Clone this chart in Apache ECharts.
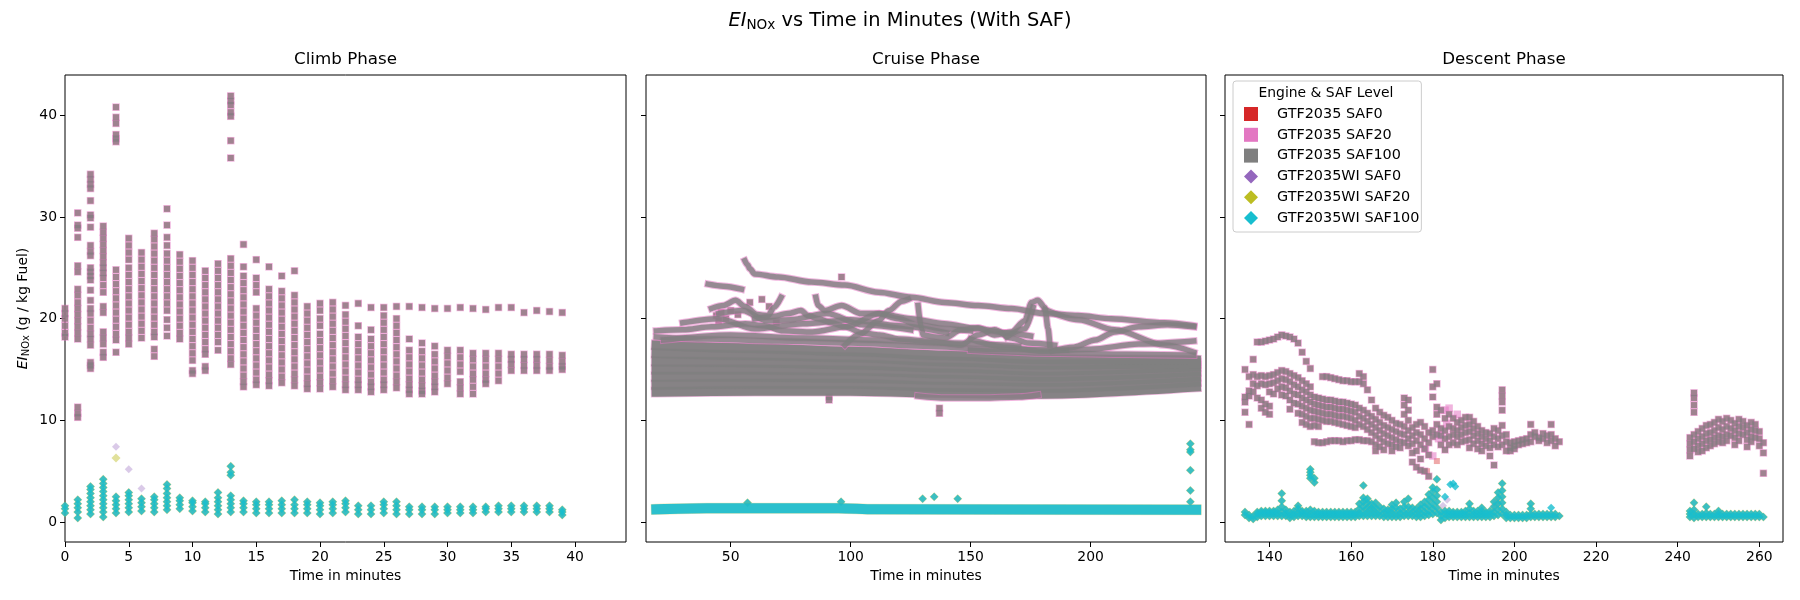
<!DOCTYPE html>
<html>
<head>
<meta charset="utf-8">
<title>EI NOx vs Time in Minutes (With SAF)</title>
<script src="https://cdn.jsdelivr.net/npm/echarts@6/dist/echarts.min.js"></script>
<style>
    html, body { margin: 0; padding: 0; background: #fff; }
    #chart { width: 1800px; height: 600px; }
</style>
</head>
<body>
<div id="chart"></div>
<script>
// ---- labels / ticks ----
var phaseTitles = ['Climb Phase', 'Cruise Phase', 'Descent Phase'];
var seriesNames = ['GTF2035 SAF0', 'GTF2035 SAF20', 'GTF2035 SAF100',
                   'GTF2035WI SAF0', 'GTF2035WI SAF20', 'GTF2035WI SAF100'];
var yTicks = [0, 10, 20, 30, 40];
var climbTicks = [0, 5, 10, 15, 20, 25, 30, 35, 40];
var cruiseTicks = [50, 100, 150, 200];
var descentTicks = [140, 160, 180, 200, 220, 240, 260];

// ---- climb: one column of values per minute ----
var climbMinutes = [0, 1, 2, 3, 4, 5, 6, 7, 8, 9, 10, 11, 12, 13, 14, 15, 16, 17, 18, 19,
                    20, 21, 22, 23, 24, 25, 26, 27, 28, 29, 30, 31, 32, 33, 34, 35, 36, 37, 38, 39];
var climbGtf = [
    [21.0, 20.5, 20.0, 19.3, 18.6, 18.2],
    [30.4, 29.2, 28.9, 28.0, 25.2, 24.6, 22.9, 22.3, 21.6, 21.0, 20.4, 19.8, 19.2, 18.6, 18.0, 11.3, 10.7, 10.3],
    [34.2, 33.7, 33.2, 32.8, 31.6, 30.2, 29.9, 29.0, 27.2, 26.6, 26.2, 25.0, 24.6, 24.2, 23.8, 22.8, 21.8, 21.0, 20.5, 19.8, 19.1, 18.5, 18.0, 17.4, 15.7, 15.4, 15.1],
    [29.1, 28.5, 27.9, 27.3, 26.7, 26.1, 25.5, 25.0, 24.5, 24.0, 23.3, 22.6, 21.2, 20.6, 18.7, 18.1, 17.5, 16.7, 16.2],
    [40.8, 39.8, 39.2, 38.1, 37.7, 37.4, 24.8, 24.1, 23.4, 22.7, 22.0, 21.3, 20.6, 19.9, 19.2, 18.5, 17.9, 16.7],
    [27.9, 27.2, 26.5, 25.8, 25.0, 24.3, 23.6, 22.9, 22.2, 21.5, 20.8, 20.1, 19.4, 18.7, 18.1, 17.5],
    [26.5, 25.8, 25.1, 24.4, 23.7, 23.0, 22.3, 21.6, 20.9, 20.2, 19.5, 18.8, 18.1],
    [28.4, 27.8, 27.1, 26.4, 25.7, 25.0, 24.3, 23.6, 22.9, 22.2, 21.5, 20.8, 20.1, 19.4, 18.7, 18.2, 17.0, 16.3],
    [30.8, 29.2, 28.0, 27.2, 26.4, 25.7, 25.0, 24.3, 23.6, 22.9, 22.2, 21.5, 20.8, 19.9, 19.1, 18.3],
    [26.3, 25.6, 24.9, 24.2, 23.5, 22.8, 22.1, 21.4, 20.7, 20.0, 19.3, 18.6, 18.0],
    [25.7, 25.0, 24.3, 23.6, 22.9, 22.2, 21.5, 20.8, 20.1, 19.4, 18.7, 18.0, 17.3, 16.6, 15.9, 14.9, 14.6],
    [24.7, 24.0, 23.3, 22.6, 21.9, 21.2, 20.5, 19.8, 19.1, 18.4, 17.7, 17.0, 16.5, 15.3, 14.9],
    [25.4, 24.7, 24.0, 23.3, 22.6, 21.9, 21.2, 20.5, 19.8, 19.1, 18.4, 17.7, 16.9],
    [41.9, 41.4, 41.0, 40.3, 39.9, 37.5, 35.8, 25.9, 25.2, 24.5, 23.8, 23.1, 22.4, 21.7, 21.0, 20.3, 19.6, 18.9, 18.2, 17.5, 16.8, 16.1, 15.5],
    [27.3, 25.1, 24.2, 23.5, 22.8, 22.1, 21.4, 20.7, 20.0, 19.3, 18.6, 17.9, 17.2, 16.5, 15.8, 15.1, 14.4, 13.8, 13.3],
    [25.8, 24.0, 23.3, 22.6, 21.0, 20.3, 19.6, 18.9, 18.2, 17.5, 16.8, 16.1, 15.4, 14.7, 14.0, 13.5],
    [25.1, 22.9, 22.2, 21.5, 20.8, 20.1, 19.4, 18.7, 18.0, 17.3, 16.6, 15.9, 15.2, 14.5, 13.9, 13.4],
    [24.2, 22.7, 22.0, 21.3, 20.6, 19.9, 19.2, 18.5, 17.8, 17.1, 16.4, 15.7, 15.0, 14.3, 13.7],
    [24.7, 22.3, 21.6, 20.9, 20.2, 19.5, 18.8, 18.1, 17.4, 16.7, 16.0, 15.3, 14.6, 14.0, 13.4],
    [21.2, 20.5, 19.8, 19.1, 18.4, 17.7, 17.0, 16.3, 15.6, 14.9, 14.2, 13.6, 13.1],
    [21.5, 20.8, 20.0, 19.3, 18.5, 17.8, 17.1, 16.4, 15.7, 15.0, 14.3, 13.7, 13.1],
    [21.6, 20.9, 20.2, 19.5, 18.8, 18.1, 17.4, 16.7, 16.0, 15.3, 14.6, 13.9, 13.3],
    [21.3, 20.4, 19.7, 19.0, 18.3, 17.6, 16.9, 16.2, 15.5, 14.8, 14.1, 13.5, 13.0],
    [21.5, 19.3, 18.2, 17.5, 16.8, 16.1, 15.4, 14.7, 14.0, 13.5, 13.0],
    [21.1, 18.9, 18.0, 17.3, 16.6, 15.9, 15.2, 14.5, 13.8, 13.3, 12.8],
    [21.1, 20.3, 19.6, 18.9, 18.2, 17.5, 16.8, 16.1, 15.4, 14.7, 14.0, 13.5, 13.0],
    [21.2, 20.0, 19.3, 18.6, 17.9, 17.2, 16.5, 15.8, 15.1, 14.4, 13.8, 13.2],
    [21.2, 18.0, 16.9, 16.2, 15.5, 14.8, 14.1, 13.5, 13.0, 12.6],
    [21.1, 17.6, 16.8, 16.1, 15.4, 14.7, 14.0, 13.4, 12.9, 12.6],
    [21.0, 17.3, 16.5, 15.8, 15.1, 14.4, 13.8, 13.3, 12.8],
    [21.0, 16.9, 16.3, 15.6, 14.9, 14.2, 13.6],
    [21.1, 16.9, 16.2, 15.5, 14.8, 13.8, 13.2, 12.6],
    [21.0, 16.6, 16.0, 15.3, 14.6, 14.0, 13.3, 12.6],
    [20.9, 16.6, 16.0, 15.3, 14.6, 14.0, 13.6],
    [21.1, 16.6, 16.0, 15.3, 14.6, 13.9],
    [21.1, 16.5, 16.0, 15.5, 14.9],
    [20.6, 16.5, 16.0, 15.4, 14.9],
    [20.8, 16.5, 16.0, 15.4, 14.9],
    [20.7, 16.5, 15.9, 15.3, 14.9],
    [20.6, 16.4, 15.8, 15.3, 15.0]
];
var climbWi = [
    [0.9, 1.3, 1.6],
    [0.4, 1.0, 1.4, 1.8, 2.2],
    [0.8, 1.2, 1.6, 2.0, 2.4, 2.8, 3.2, 3.5],
    [0.5, 1.0, 1.4, 1.8, 2.2, 2.6, 3.0, 3.4, 3.8, 4.2],
    [0.9, 1.3, 1.7, 2.1, 2.5],
    [1.0, 1.4, 1.8, 2.2, 2.6, 2.9],
    [1.1, 1.5, 1.9, 2.3],
    [1.0, 1.4, 1.8, 2.2, 2.5],
    [1.2, 1.6, 2.0, 2.4, 2.8, 3.3, 3.7],
    [1.3, 1.7, 2.1, 2.4],
    [1.1, 1.5, 1.9, 2.1],
    [1.0, 1.4, 1.8, 2.0],
    [0.8, 1.2, 1.6, 2.0, 2.4, 2.9],
    [1.0, 1.4, 1.8, 2.2, 2.6, 4.6, 4.9, 5.5],
    [1.0, 1.4, 1.8, 2.1],
    [0.9, 1.3, 1.7, 2.0],
    [0.9, 1.3, 1.7, 2.0],
    [0.9, 1.3, 1.7, 2.1],
    [0.9, 1.3, 1.7, 2.2],
    [0.9, 1.3, 1.7, 2.0],
    [0.8, 1.2, 1.6, 1.9],
    [0.9, 1.3, 1.7, 2.0],
    [1.0, 1.4, 1.8, 2.1],
    [0.8, 1.2, 1.6],
    [0.8, 1.2, 1.6],
    [0.9, 1.3, 1.7, 2.0],
    [0.8, 1.2, 1.6, 2.0],
    [0.8, 1.2, 1.5],
    [0.8, 1.2, 1.5],
    [0.8, 1.2, 1.5],
    [0.9, 1.2, 1.5],
    [0.9, 1.2, 1.5],
    [0.9, 1.2, 1.5],
    [1.0, 1.3, 1.5],
    [1.0, 1.3, 1.6],
    [1.0, 1.3, 1.6],
    [1.0, 1.3, 1.6],
    [1.0, 1.3, 1.6],
    [1.0, 1.3, 1.6],
    [0.7, 1.0, 1.2]
];
var climbWiSaf0Only = [[4, 7.4], [5, 5.2], [6, 3.3]];
var climbWiSaf20Only = [[4, 6.3]];

// ---- cruise: flight tracks (time, value) ----
var cruiseBand = [
    [[19, 12.8], [60, 12.9], [100, 12.9], [140, 12.7], [180, 12.6], [244, 13.3]],
    [[19, 13.5], [60, 13.6], [100, 13.6], [140, 13.3], [180, 13.2], [244, 13.8]],
    [[19, 14.3], [60, 14.3], [100, 14.2], [140, 14.0], [180, 13.8], [244, 14.3]],
    [[19, 15.0], [60, 15.0], [100, 14.9], [140, 14.6], [180, 14.3], [244, 14.8]],
    [[19, 15.8], [60, 15.7], [100, 15.5], [140, 15.2], [180, 14.9], [244, 15.3]],
    [[19, 16.6], [60, 16.4], [100, 16.2], [140, 15.8], [180, 15.5], [244, 15.6]],
    [[19, 17.4], [60, 17.1], [100, 16.8], [140, 16.4], [180, 16.0], [244, 15.9]]
];
var cruiseTracks = [
    [[128, 12.4], [140, 12.2], [155, 12.2], [170, 12.3], [178, 12.5]],
    [[19, 18.2], [40, 18.0], [70, 17.8], [100, 17.6], [130, 17.3], [160, 17.0], [190, 16.9]],
    [[22, 17.9], [50, 18.4], [80, 18.1], [110, 17.9], [140, 17.6], [170, 17.3]],
    [[150, 18.0], [165, 17.2], [180, 16.8], [200, 17.0], [220, 17.5], [243, 17.8]],
    [[55.9, 25.7], [57, 25.3], [58, 24.9], [60, 24.4], [69.8, 24.1], [83.7, 23.6], [97.6, 23.3], [111.5, 22.6],
     [125.4, 22.1], [139.2, 21.6], [153.1, 21.3], [167, 21.0], [180.9, 20.5], [194.8, 20.3], [208.6, 20.0],
     [230.8, 19.6], [243, 19.3]],
    [[40.6, 23.4], [47, 23.2], [54.5, 22.9]],
    [[19, 18.8], [30, 18.9], [42, 19.2], [56, 19.5], [64, 19.3], [72, 18.8], [84, 18.7], [98, 19.2],
     [112, 20.5], [125, 20.0], [139, 19.5], [153, 19.0], [165, 18.6], [175, 18.3]],
    [[30, 19.6], [45, 20.0], [60, 19.0], [80, 19.5], [100, 19.9], [120, 19.3], [140, 18.6]],
    [[45, 20.5], [55, 20.8], [65, 19.8], [75, 19.9], [90, 20.5], [105, 19.4], [125, 18.9]],
    [[42, 21.0], [47, 21.3], [52, 21.8], [56, 21.2], [61, 20.4], [65.6, 20.3], [68, 21.1], [71, 22.1]],
    [[60, 20.0], [67, 20.2], [73.8, 20.5], [79.3, 20.8], [82.3, 20.3], [86.4, 20.0], [92, 19.6], [97.6, 19.2],
     [105, 18.6], [112, 18.4], [120, 18.0], [132, 17.8], [146, 17.4], [153, 18.4], [160, 18.9], [167, 18.1],
     [174, 17.6], [185, 17.4]],
    [[85.5, 22.1], [86.4, 21.3], [89.2, 20.8], [96.2, 21.3], [104.5, 20.5], [111.5, 20.5], [119.8, 20.0],
     [128, 19.4], [139, 19.0], [150, 18.8]],
    [[97.6, 17.4], [104, 18.5], [111.5, 19.8], [116, 20.8], [121.2, 21.7], [124, 21.9]],
    [[128.1, 21.3], [129.5, 19.0], [130.2, 18.4], [135, 18.2], [139.2, 18.1], [146, 18.9], [153.1, 19.1],
     [160, 18.4], [167, 18.7], [172.6, 19.8], [175.4, 21.6], [178, 21.8], [180.9, 21.1], [182.3, 19.0], [183, 17.4]],
    [[165, 18.2], [172.6, 19.0], [176, 21.1]],
    [[180.9, 20.9], [195, 19.9], [210, 18.9], [230.8, 17.4], [243, 16.7]],
    [[184, 16.8], [193, 17.2], [202, 17.9], [210, 18.7], [220, 19.2], [232, 19.4], [243, 19.2]],
    [[150, 16.9], [187, 16.6], [215, 16.5], [243, 16.4]]
];
var cruiseGtfDots = [[96.2, 24.1], [44, 20.3], [46, 20.6], [48, 20.0], [50, 20.8], [53, 20.4], [58, 21.6],
                     [63, 21.9], [45, 19.8], [66, 21.2], [69, 19.6], [91, 12.0], [91, 12.3], [137, 10.7], [137, 11.2]];
var cruiseWiBand = [[19, 1.25], [40, 1.35], [95, 1.35], [110, 1.25], [244, 1.2]];
var cruiseWiDots = [[57, 1.9], [96, 2.0], [130, 2.3], [134.8, 2.5], [144.6, 2.3],
                    [241.6, 7.7], [241.6, 7.1], [241.6, 6.9], [241.6, 5.1], [241.6, 3.1], [241.6, 2.0]];

// ---- descent: columns per minute ----
var descentGtf = [
    [134, [15.0, 12.3, 11.8, 10.8]], [135, [14.3, 12.9, 12.4, 9.6]], [136, [16.0, 14.5, 13.6, 12.8]],
    [137, [17.7, 14.3, 13.4, 12.2]], [138, [17.7, 14.4, 13.6, 12.0, 11.2]], [139, [17.8, 14.3, 13.5, 11.6, 10.8]],
    [140, [17.9, 14.4, 13.6, 12.8, 11.4, 10.6]], [141, [18.0, 14.5, 13.7, 12.6]], [142, [18.2, 14.7, 13.9, 13.1]],
    [143, [18.4, 14.9, 14.1, 13.3, 12.5]], [144, [18.3, 14.8, 14.0, 13.2, 12.4]],
    [145, [18.2, 14.6, 13.8, 12.9, 12.0, 11.1]], [146, [18.0, 14.4, 13.5, 12.6, 11.7]],
    [147, [17.6, 14.2, 13.3, 12.5, 11.6, 10.7]], [148, [16.7, 13.9, 13.0, 12.2, 11.4, 10.6, 9.8]],
    [149, [15.8, 13.6, 12.8, 12.0, 11.2, 10.4, 9.6]], [150, [15.1, 13.3, 12.5, 11.8, 11.0, 10.2, 9.4]],
    [151, [12.3, 11.6, 10.9, 10.2, 9.5, 7.9]], [152, [12.2, 11.5, 10.8, 10.1, 9.4, 7.8]],
    [153, [14.3, 12.1, 11.4, 10.7, 10.0, 7.8]], [154, [14.3, 12.0, 11.3, 10.6, 9.9, 7.9]],
    [155, [14.2, 12.0, 11.3, 10.6, 9.9, 8.0]], [156, [14.1, 11.9, 11.2, 10.5, 9.8, 8.0]],
    [157, [14.0, 11.8, 11.1, 10.4, 9.7, 8.0]], [158, [13.9, 11.8, 11.1, 10.4, 9.6, 7.9]],
    [159, [13.9, 11.7, 11.0, 10.3, 9.5, 8.0]], [160, [13.8, 11.6, 10.9, 10.2, 9.4, 8.0]],
    [161, [13.8, 11.5, 10.8, 10.0, 9.3, 8.1]], [162, [14.6, 13.8, 11.2, 10.4, 9.6, 8.1]],
    [163, [14.3, 13.6, 11.0, 10.2, 9.4, 8.0]], [164, [13.0, 10.7, 9.9, 9.1, 8.0]],
    [165, [12.0, 10.4, 9.6, 8.8, 7.9]], [166, [11.2, 10.1, 9.3, 8.5, 7.6, 7.0]],
    [167, [10.8, 9.8, 9.0, 8.2, 7.4]], [168, [10.5, 9.5, 8.7, 7.9, 7.1]], [169, [10.3, 9.3, 8.5, 7.7]],
    [170, [10.0, 9.1, 8.3, 7.6, 7.0]], [171, [9.7, 8.9, 8.1, 7.4]], [172, [9.6, 8.7, 7.9, 7.3]],
    [173, [12.2, 11.5, 10.6, 9.4, 8.6, 7.8]], [174, [12.0, 11.0, 10.0, 9.0, 8.2, 7.5]],
    [175, [9.3, 8.5, 7.7, 6.8, 5.9]], [176, [9.6, 8.8, 8.0, 7.0, 5.4]], [177, [9.8, 8.6, 7.6, 6.2, 5.1]],
    [178, [9.4, 8.2, 7.2, 5.0]], [179, [8.8, 7.8, 6.6, 4.5]], [180, [15.0, 13.3, 12.3, 9.0, 8.4]],
    [181, [13.6, 11.3, 10.6, 9.6, 8.6]], [182, [11.0, 9.2, 8.5, 7.6]], [183, [10.2, 9.0, 8.2, 7.1]],
    [184, [10.6, 9.4, 8.4, 7.6]], [185, [10.2, 9.2, 8.6, 7.8]], [186, [9.8, 9.0, 8.4, 7.6]],
    [187, [10.0, 9.3, 8.6, 7.9]], [188, [10.3, 9.5, 8.8, 8.0]], [189, [10.3, 9.6, 8.9, 8.1, 7.3]],
    [190, [9.9, 9.2, 8.5, 7.7]], [191, [9.4, 8.7, 8.0, 7.2]], [192, [9.0, 8.4, 7.7, 7.0]],
    [193, [8.8, 8.2, 7.5]], [194, [8.7, 8.0, 7.3, 6.5]], [195, [9.2, 8.4, 7.6, 5.6]], [196, [9.0, 8.2, 7.4]],
    [197, [13.0, 12.4, 11.8, 11.0, 9.5, 8.5, 7.6]], [198, [8.6, 7.9, 7.0]], [199, [7.8, 7.3, 7.0]],
    [200, [7.9, 7.5, 7.2]], [201, [8.0, 7.6]], [202, [8.1, 7.7]], [203, [8.2, 7.8]], [204, [9.6, 8.6, 7.9]],
    [205, [8.8, 8.4]], [206, [8.3, 8.0]], [207, [8.7, 8.2]], [208, [8.5, 7.8]], [209, [9.6, 8.6, 8.0]],
    [210, [8.2, 7.5]], [211, [7.9]],
    [243, [8.3, 7.7, 7.1, 6.5]], [244, [12.7, 12.2, 11.5, 10.8, 8.6, 7.9, 7.2]], [245, [8.9, 8.2, 7.5, 6.9]],
    [246, [9.2, 8.4, 7.7, 7.0]], [247, [9.5, 8.7, 8.0, 7.3]], [248, [9.6, 8.8, 8.1, 7.5]],
    [249, [9.8, 9.0, 8.3, 7.7]], [250, [10.1, 9.3, 8.5, 7.9]], [251, [9.9, 9.1, 8.4, 7.8]],
    [252, [10.2, 9.4, 8.6, 8.0]], [253, [10.0, 9.2, 8.5]], [254, [9.7, 9.0, 8.3, 7.6]],
    [255, [10.1, 9.4, 8.7, 8.0]], [256, [9.9, 9.3, 8.6]], [257, [9.5, 8.8, 8.1, 7.4]],
    [258, [9.8, 9.1, 8.4, 7.9]], [259, [9.6, 9.0, 8.3]], [260, [8.9, 8.2, 7.5]], [261, [7.8, 6.8, 4.8]]
];
var descentSaf0Only = [[178.6, 5.0], [181, 6.0]];
var descentSaf20Only = [[183, 11.0], [184, 11.2], [182, 8.6], [183.4, 9.7], [178.2, 7.2], [181.4, 8.2], [180, 6.5], [186, 10.6]];
var descentWi = [
    [134, [0.7, 1.0]], [135, [0.4, 0.7]], [136, [0.3, 0.6]], [137, [0.5, 0.8, 1.0]], [138, [0.6, 0.9, 1.1]],
    [139, [0.6, 0.9, 1.1]], [140, [0.6, 0.9, 1.1]], [141, [0.6, 0.9, 1.1]], [142, [0.6, 0.9, 1.2]],
    [143, [0.6, 1.0, 1.5, 2.1, 2.8]], [144, [0.6, 0.9, 1.2]], [145, [0.4, 0.7, 1.0]], [146, [0.5, 0.8, 1.1]],
    [147, [0.6, 0.9, 1.3, 1.6]], [148, [0.6, 0.9, 1.1]], [149, [0.5, 0.8, 1.1]],
    [150, [0.5, 0.8, 1.2, 4.3, 4.6, 4.9, 5.2]], [151, [0.5, 0.8, 1.1, 3.9, 4.3]],
    [152, [0.5, 0.8, 1.0]], [153, [0.5, 0.8, 1.0]], [154, [0.5, 0.8, 1.0]], [155, [0.5, 0.8, 1.0]],
    [156, [0.5, 0.8, 1.0]], [157, [0.5, 0.8, 1.0]], [158, [0.5, 0.8, 1.0]], [159, [0.5, 0.8, 1.0]],
    [160, [0.5, 0.8, 1.0]], [161, [0.5, 0.8, 1.0]], [162, [0.6, 0.9, 1.3, 1.8]],
    [163, [0.6, 1.0, 1.5, 2.0, 2.4, 3.6]], [164, [0.6, 1.0, 1.4, 1.9, 2.3]], [165, [0.6, 1.0, 1.4, 1.8]],
    [166, [0.6, 1.0, 1.4, 1.9]], [167, [0.6, 1.0, 1.5]], [168, [0.5, 0.9, 1.3]], [169, [0.5, 0.9, 1.2]],
    [170, [0.5, 0.9, 1.3, 1.7]], [171, [0.5, 0.9, 1.4, 1.9]], [172, [0.5, 0.9, 1.3]],
    [173, [0.6, 1.0, 1.5, 2.0]], [174, [0.6, 1.0, 1.5, 2.3]], [175, [0.6, 1.0, 1.4]], [176, [0.5, 0.9, 1.3]],
    [177, [0.5, 0.9, 1.3, 1.7]], [178, [0.6, 1.0, 1.5, 2.0]], [179, [0.7, 1.1, 1.6, 2.2, 2.7]],
    [180, [0.8, 1.3, 1.8, 2.4, 3.0, 3.4]], [181, [0.9, 1.4, 2.0, 2.6, 3.2, 4.2]], [182, [0.2, 0.6, 1.0]],
    [183, [0.4, 0.8, 1.1]], [184, [0.5, 0.8, 1.1]], [185, [0.5, 0.8, 1.0]], [186, [0.5, 0.8, 1.0]],
    [187, [0.5, 0.8, 1.0]], [188, [0.5, 0.8, 1.1]], [189, [0.5, 0.9, 1.3, 1.8]], [190, [0.5, 0.8, 1.1]],
    [191, [0.5, 0.8, 1.1]], [192, [0.5, 0.8, 1.1, 1.4]], [193, [0.5, 0.8, 1.0]], [194, [0.5, 0.8, 1.1]],
    [195, [0.6, 1.0, 1.5, 2.0]], [196, [0.7, 1.2, 1.8, 2.4, 2.9]], [197, [0.8, 1.3, 1.9, 2.5, 3.1, 3.8]],
    [198, [0.4, 0.7, 1.0]], [199, [0.4, 0.7]], [200, [0.4, 0.7]], [201, [0.4, 0.7]], [202, [0.4, 0.7]],
    [203, [0.4, 0.7]], [204, [0.5, 0.8, 1.3, 1.8]], [205, [0.5, 0.8]], [206, [0.5, 0.8]], [207, [0.5, 0.8]],
    [208, [0.5, 0.8]], [209, [0.5, 0.8]], [210, [0.5, 0.8]], [211, [0.6]],
    [243, [0.5, 0.8, 1.1]], [244, [0.4, 0.8, 1.2, 1.9]], [245, [0.5, 0.8]], [246, [0.5, 0.8]],
    [247, [0.5, 0.9, 1.5]], [248, [0.5, 0.8]], [249, [0.5, 0.8]], [250, [0.5, 0.8, 1.1]], [251, [0.5, 0.8]],
    [252, [0.5, 0.8]], [253, [0.5, 0.8]], [254, [0.5, 0.8]], [255, [0.5, 0.8]], [256, [0.5, 0.8]],
    [257, [0.5, 0.8]], [258, [0.5, 0.8]], [259, [0.5, 0.8]], [260, [0.5, 0.8]], [261, [0.5]]
];
var descentWiSaf0Only = [[195, 1.6], [195.7, 2.0], [196, 1.8], [182.5, 1.6], [183.5, 2.2]];
var descentWiSaf100Only = [[184.3, 3.7], [185, 3.8], [185.5, 3.5], [209, 1.4], [183, 2.5]];

// ---- helpers ----
function fromColumns(times, cols) {
    var out = [];
    cols.forEach(function (c, i) {
        c.forEach(function (v) { out.push([times[i], v]); });
    });
    return out;
}
function fromPairs(pairs) {
    var out = [];
    pairs.forEach(function (p) {
        p[1].forEach(function (v) { out.push([p[0], v]); });
    });
    return out;
}

var colors = ['#d62728', '#e377c2', '#7f7f7f', '#9467bd', '#bcbd22', '#17becf'];
var dotLook = [
    {symbol: 'rect', size: 6, opacity: 0.4},
    {symbol: 'rect', size: 7.5, opacity: 0.55},
    {symbol: 'rect', size: 6, opacity: 0.7},
    {symbol: 'diamond', size: 8, opacity: 0.35},
    {symbol: 'diamond', size: 9, opacity: 0.45},
    {symbol: 'diamond', size: 8, opacity: 0.8}
];

function dots(k, idx, data) {
    return {
        name: seriesNames[k], type: 'scatter', xAxisIndex: idx, yAxisIndex: idx,
        data: data, symbol: dotLook[k].symbol, symbolSize: dotLook[k].size,
        itemStyle: {color: colors[k], opacity: dotLook[k].opacity},
        silent: true, clip: true
    };
}
function trail(k, idx, data, width, op) {
    return {
        name: seriesNames[k], type: 'line', xAxisIndex: idx, yAxisIndex: idx,
        data: data, symbol: 'none', showSymbol: false, smooth: 0.3, smoothMonotone: 'x',
        lineStyle: {color: colors[k], width: width, opacity: op, cap: 'square', join: 'round'},
        silent: true, clip: true
    };
}

var climbEngine = fromColumns(climbMinutes, climbGtf);
var climbWater = fromColumns(climbMinutes, climbWi);
var descentEngine = fromPairs(descentGtf);
var descentWater = fromPairs(descentWi);

var series = [];
// climb
series.push(dots(0, 0, climbEngine));
series.push(dots(1, 0, climbEngine));
series.push(dots(2, 0, climbEngine));
series.push(dots(3, 0, climbWater.concat(climbWiSaf0Only)));
series.push(dots(4, 0, climbWater.concat(climbWiSaf20Only)));
series.push(dots(5, 0, climbWater));
// cruise: dense band first, then the single tracks on top
cruiseBand.forEach(function (t) { series.push(trail(1, 1, t, 11, 0.5)); });
cruiseBand.forEach(function (t) { series.push(trail(2, 1, t, 9.5, 0.95)); });
cruiseTracks.forEach(function (t) { series.push(trail(1, 1, t, 7.5, 0.55)); });
cruiseTracks.forEach(function (t) { series.push(trail(2, 1, t, 5.5, 0.8)); });
series.push(dots(0, 1, cruiseGtfDots));
series.push(dots(1, 1, cruiseGtfDots));
series.push(dots(2, 1, cruiseGtfDots));
series.push(trail(3, 1, cruiseWiBand, 10, 0.2));
series.push(trail(4, 1, cruiseWiBand, 11, 0.3));
series.push(trail(5, 1, cruiseWiBand, 10, 0.9));
series.push(dots(3, 1, cruiseWiDots));
series.push(dots(4, 1, cruiseWiDots));
series.push(dots(5, 1, cruiseWiDots));
// descent
series.push(dots(0, 2, descentEngine.concat(descentSaf0Only)));
series.push(dots(1, 2, descentEngine.concat(descentSaf20Only)));
series.push(dots(2, 2, descentEngine));
series.push(dots(3, 2, descentWater.concat(descentWiSaf0Only)));
series.push(dots(4, 2, descentWater));
series.push(dots(5, 2, descentWater.concat(descentWiSaf100Only)));

var font = 'DejaVu Sans';
var grids = [
    {left: 65, top: 75, width: 561, height: 467},
    {left: 646, top: 75, width: 560, height: 467},
    {left: 1225, top: 75, width: 558, height: 467}
];
grids.forEach(function (g) {
    g.show = true; g.borderColor = '#000'; g.borderWidth = 1; g.backgroundColor = 'transparent';
});

function xAx(idx, min, max, ticks) {
    return {
        type: 'value', gridIndex: idx, min: min, max: max,
        name: 'Time in minutes', nameLocation: 'middle', nameGap: 27,
        nameTextStyle: {color: '#000', fontSize: 13.9, fontFamily: font},
        axisLine: {show: false, onZero: false}, splitLine: {show: false},
        axisTick: {show: true, length: 5, lineStyle: {color: '#000'}, customValues: ticks},
        axisLabel: {color: '#000', fontSize: 13.9, fontFamily: font, margin: 8, customValues: ticks}
    };
}
function yAx(idx, showLabel) {
    var ax = {
        type: 'value', gridIndex: idx, min: -1.96, max: 43.96,
        axisLine: {show: false, onZero: false}, splitLine: {show: false},
        axisTick: {show: true, length: 5, lineStyle: {color: '#000'}, customValues: yTicks},
        axisLabel: {show: showLabel, color: '#000', fontSize: 13.9, fontFamily: font, margin: 8, customValues: yTicks}
    };
    if (showLabel) {
        ax.name = '{i|EI}{s|NOx} (g / kg Fuel)';
        ax.nameLocation = 'middle';
        ax.nameRotate = 90;
        ax.nameGap = 34;
        ax.nameTextStyle = {
            color: '#000', fontSize: 13.9, fontFamily: font, lineHeight: 16,
            rich: {
                i: {fontStyle: 'italic', fontSize: 13.9, fontFamily: font, color: '#000', lineHeight: 16},
                s: {fontSize: 10, fontFamily: font, color: '#000', verticalAlign: 'bottom', lineHeight: 9}
            }
        };
    }
    return ax;
}

var centers = [345.5, 926, 1504];
var titles = [{
    text: '{i|EI}{s|NOx} vs Time in Minutes (With SAF)',
    left: 900, textAlign: 'center', top: 10, padding: 0,
    textStyle: {
        color: '#000', fontSize: 19.4, fontWeight: 'normal', fontFamily: font, lineHeight: 22,
        rich: {
            i: {fontStyle: 'italic', fontSize: 19.4, fontFamily: font, color: '#000', lineHeight: 22},
            s: {fontSize: 13.6, fontFamily: font, color: '#000', verticalAlign: 'bottom', lineHeight: 12}
        }
    }
}];
phaseTitles.forEach(function (t, i) {
    titles.push({
        text: t, left: centers[i], textAlign: 'center', top: 51, padding: 0,
        textStyle: {color: '#000', fontSize: 16.7, fontWeight: 'normal', fontFamily: font, lineHeight: 18}
    });
});
titles.push({
    text: 'Engine & SAF Level', left: 1326, textAlign: 'center', top: 86, padding: 0, z: 12,
    textStyle: {color: '#000', fontSize: 13.9, fontWeight: 'normal', fontFamily: font, lineHeight: 15}
});

var legendIcons = ['rect', 'rect', 'rect', 'diamond', 'diamond', 'diamond'];
var option = {
    animation: false,
    backgroundColor: '#fff',
    textStyle: {fontFamily: font},
    title: titles,
    legend: {
        orient: 'vertical', left: 1233, top: 81, z: 10,
        padding: [26, 2, 7, 11], itemGap: 6.8, itemWidth: 14, itemHeight: 14,
        backgroundColor: 'rgba(255,255,255,0.85)', borderColor: '#cccccc', borderWidth: 1, borderRadius: 3,
        selectedMode: false,
        textStyle: {color: '#000', fontSize: 14.4, fontFamily: font, lineHeight: 14, padding: [0, 0, 0, 14]},
        data: seriesNames.map(function (n, k) {
            return {name: n, icon: legendIcons[k], itemStyle: {color: colors[k], opacity: 1, borderWidth: 0}};
        })
    },
    grid: grids,
    xAxis: [xAx(0, 0, 44, climbTicks), xAx(1, 14.7, 248.1, cruiseTicks), xAx(2, 129.1, 265.8, descentTicks)],
    yAxis: [yAx(0, true), yAx(1, false), yAx(2, false)],
    series: series
};

var chart = echarts.init(document.getElementById('chart'));
chart.setOption(option);
</script>
</body>
</html>
